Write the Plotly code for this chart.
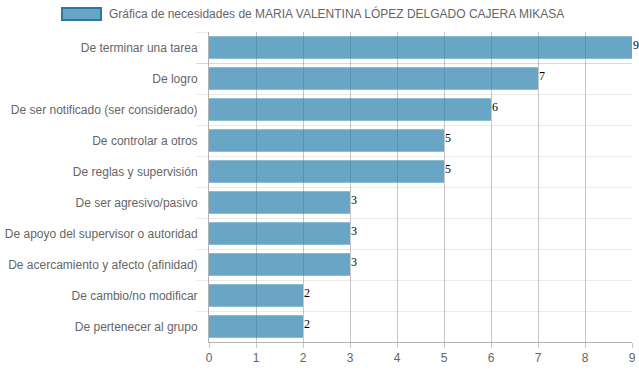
import plotly.graph_objects as go

categories = [
    "De terminar una tarea",
    "De logro",
    "De ser notificado (ser considerado)",
    "De controlar a otros",
    "De reglas y supervisión",
    "De ser agresivo/pasivo",
    "De apoyo del supervisor o autoridad",
    "De acercamiento y afecto (afinidad)",
    "De cambio/no modificar",
    "De pertenecer al grupo",
]
values = [9, 7, 6, 5, 5, 3, 3, 3, 2, 2]
series_name = "Gráfica de necesidades de MARIA VALENTINA LÓPEZ DELGADO CAJERA MIKASA"
x_ticks = list(range(0, 10))

bar_fill = "rgba(42,128,172,0.7)"
bar_border = "rgba(42,120,165,1)"

fig = go.Figure()
fig.add_trace(go.Bar(
    y=categories,
    x=values,
    orientation="h",
    marker=dict(color=bar_fill, line=dict(width=0)),
    width=0.72,
    showlegend=False,
    hoverinfo="x+y",
))

value_labels = [
    dict(
        x=v, y=c, xref="x", yref="y", text=str(v), showarrow=False,
        xanchor="left", yanchor="middle", xshift=-1, yshift=3,
        font=dict(family="Liberation Serif, Times New Roman, serif", size=12, color="#000"),
    )
    for c, v in zip(categories, values)
]

fig.update_layout(
    width=639,
    height=372,
    margin=dict(l=209, r=7, t=32, b=30, autoexpand=False),
    paper_bgcolor="white",
    plot_bgcolor="white",
    font=dict(family="Liberation Sans, Arial, sans-serif", size=12, color="#666"),
    xaxis=dict(
        range=[0, 9],
        tickvals=x_ticks,
        ticktext=[str(t) for t in x_ticks],
        showgrid=True,
        gridcolor="rgba(0,0,0,0.22)",
        gridwidth=1,
        zeroline=False,
        showline=True,
        linecolor="rgba(0,0,0,0.3)",
        ticks="outside",
        ticklen=5,
        tickcolor="rgba(0,0,0,0.22)",
        tickfont=dict(size=12, color="#666"),
        automargin=False,
        fixedrange=True,
    ),
    yaxis=dict(
        autorange="reversed",
        type="category",
        tickson="boundaries",
        showgrid=True,
        gridcolor="rgba(0,0,0,0.08)",
        gridwidth=1,
        showline=True,
        linecolor="rgba(0,0,0,0.3)",
        ticks="outside",
        ticklen=12,
        tickcolor="rgba(0,0,0,0.08)",
        ticklabelstandoff=8,
        tickfont=dict(size=12, color="#666"),
        automargin=False,
        fixedrange=True,
    ),
    shapes=[
        dict(
            type="rect", xref="paper", yref="paper",
            x0=(62 - 209) / 423, x1=(101 - 209) / 423,
            y0=(342 - 20) / 310, y1=(342 - 8) / 310,
            fillcolor=bar_fill, line=dict(color=bar_border, width=2),
        )
    ],
    annotations=[
        dict(
            text=series_name, xref="paper", yref="paper",
            x=(107 - 209) / 423, y=(342 - 14) / 310,
            xanchor="left", yanchor="middle", showarrow=False,
            font=dict(size=12, color="#666"),
        )
    ] + value_labels,
)

fig.write_html(
    "out.html",
    config={"displayModeBar": False},
    post_script="document.body.style.margin='0';",
)
